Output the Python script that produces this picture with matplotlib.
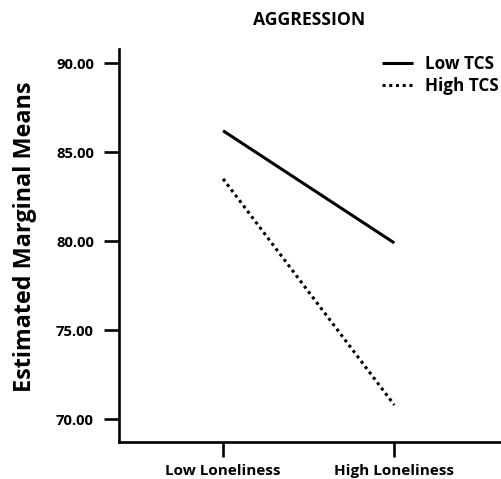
import numpy as np
import matplotlib
matplotlib.use("Agg")
import matplotlib.pyplot as plt

plt.rcParams['font.family'] = ['Open Sans', 'DejaVu Sans']

## data
categories = ["Low Loneliness", "High Loneliness"]
low_tcs = [86.2, 79.9]
high_tcs = [83.5, 70.8]
yticks = [70, 75, 80, 85, 90]

fig = plt.figure(figsize=(5.01, 4.79), dpi=100)
# axes runs past the right edge like in the original crop
ax = fig.add_axes([0.2375, 0.078, 0.84, 0.82])

x = np.arange(len(categories))
ax.plot(x, low_tcs, color="black", lw=2.2, solid_capstyle="butt", label="Low TCS")
ax.plot(x, high_tcs, color="black", lw=2.2, linestyle=(0, (1, 1.2)), label="High TCS")

ax.set_xlim(-0.608, 1.85)
ax.set_ylim(68.74, 90.8)
ax.set_xticks(x)
ax.set_xticklabels(categories, fontsize=11, fontweight="bold")
ax.set_yticks(yticks)
ax.set_yticklabels(["%.2f" % v for v in yticks], fontsize=10.7, fontweight="bold")

for side in ["top", "right"]:
    ax.spines[side].set_visible(False)
for side in ["left", "bottom"]:
    ax.spines[side].set_linewidth(1.9)
ax.tick_params(axis="both", length=11, width=1.9, pad=7)
ax.tick_params(axis="x", pad=5)

fig.text(25 / 501, 1 - 236.5 / 479, "Estimated Marginal Means", rotation=90,
         ha="center", va="center", fontsize=16.8, fontweight="bold")
fig.text(0.618, 0.958, "AGGRESSION", ha="center", va="center", fontsize=12.7, fontweight="bold")

ax.legend(loc="upper left", bbox_to_anchor=(0.7445, 0.9027), bbox_transform=fig.transFigure,
          frameon=False, borderpad=0, handlelength=1.83, handletextpad=0.74,
          labelspacing=0.2, prop={"size": 12.3, "weight": "bold"})

fig.savefig("out.png", dpi=100)
